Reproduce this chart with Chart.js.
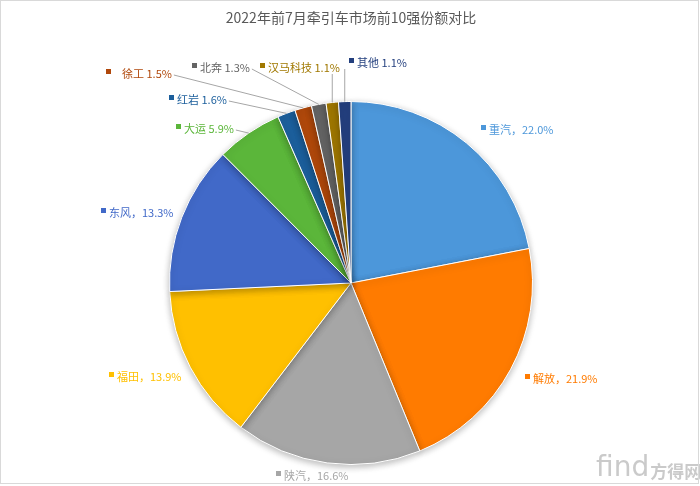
<!DOCTYPE html>
<html>
<head>
<meta charset="utf-8">
<script src="https://cdn.jsdelivr.net/npm/chart.js@4"></script>
<style>
  html, body { margin: 0; padding: 0; background: #fff; }
  #wrap { position: relative; width: 700px; height: 486px; }
  #frame { position: absolute; left: 0; top: 0; width: 697px; height: 482px; border: 1px solid #d9d9d9; box-sizing: content-box; pointer-events: none; }
</style>
</head>
<body>
<div id="wrap">
  <canvas id="pieChart" width="700" height="486"></canvas>
  <div id="frame"></div>
</div>
<script>
// --- data ---
const brands = ["重汽", "解放", "陕汽", "福田", "东风", "大运", "红岩", "徐工", "北奔", "汉马科技", "其他"];
const shares = [22.0, 21.9, 16.6, 13.9, 13.3, 5.9, 1.6, 1.5, 1.3, 1.1, 1.1];
const chartTitle = "2022年前7月牵引车市场前10强份额对比";

// slice colours
const colors = ["#4c97da", "#ff7b00", "#a6a6a6", "#ffc000", "#4169c8", "#5bb63a", "#1c5f9c", "#b0480b", "#646464", "#a07800", "#233f7e"];

// where each label sits (marker left x, middle y) - picked by eye
const labelPos = [
  [481, 129], [525, 378], [276, 475], [109, 376], [101, 212],
  [176, 128], [169, 99], [106, 73], [192, 67], [260, 67], [349, 62]
];

const labelFont = '11px "Noto Sans CJK SC", "DejaVu Sans", sans-serif';

// shadow under the pie
const shadowPlugin = {
  id: "pieShadow",
  beforeDatasetsDraw(chart) {
    const ctx = chart.ctx;
    ctx.save();
    ctx.shadowColor = "rgba(0,0,0,0.28)";
    ctx.shadowBlur = 7;
    ctx.shadowOffsetY = 2;
  },
  afterDatasetsDraw(chart) {
    chart.ctx.restore();
  }
};

// title + outside labels + leader lines + watermark
const labelPlugin = {
  id: "outLabels",
  afterDraw(chart) {
    const ctx = chart.ctx;
    const meta = chart.getDatasetMeta(0);

    ctx.save();
    ctx.font = '14px "Noto Sans CJK SC", "DejaVu Sans", sans-serif';
    ctx.fillStyle = "#595959";
    ctx.textAlign = "center";
    ctx.textBaseline = "middle";
    ctx.fillText(chartTitle, 351, 18);

    ctx.font = labelFont;
    ctx.textAlign = "left";
    meta.data.forEach((arc, i) => {
      const sep = shares[i] >= 10 ? "，" : " ";
      const txt = brands[i] + sep + shares[i].toFixed(1) + "%";
      const [lx, ly] = labelPos[i];
      const gap = i === 7 ? 16 : 8;
      const tw = ctx.measureText(txt).width;

      // marker
      ctx.fillStyle = colors[i];
      ctx.fillRect(lx, ly - 4, 5, 5);
      ctx.fillText(txt, lx + gap, ly + 1);

      // leader lines for the small slices
      if (shares[i] < 10) {
        const mid = (arc.startAngle + arc.endAngle) / 2;
        const ax = arc.x + Math.cos(mid) * arc.outerRadius;
        const ay = arc.y + Math.sin(mid) * arc.outerRadius;
        const right = lx + gap + tw;
        ctx.strokeStyle = "#a6a6a6";
        ctx.lineWidth = 1;
        ctx.beginPath();
        if (ax >= lx - 10 && ax <= right + 2) {
          ctx.moveTo(ax, ly + 7);
        } else {
          ctx.moveTo(right + 2, ly + 2);
        }
        ctx.lineTo(ax, ay);
        ctx.stroke();
      }
    });

    // watermark
    ctx.fillStyle = "rgba(150,150,150,0.5)";
    ctx.font = '28px "DejaVu Sans", sans-serif';
    ctx.fillText("find", 596, 469);
    const fw = ctx.measureText("find").width;
    ctx.font = 'bold 17px "Noto Sans CJK SC", sans-serif';
    ctx.fillText("方得网", 596 + fw + 1, 472);
    ctx.restore();
  }
};

new Chart(document.getElementById("pieChart"), {
  type: "pie",
  data: {
    labels: brands,
    datasets: [{
      data: shares,
      backgroundColor: colors,
      borderColor: "#ffffff",
      borderWidth: 1
    }]
  },
  options: {
    responsive: false,
    animation: false,
    layout: { padding: { top: 101, bottom: 21, left: 101, right: 99 } },
    plugins: {
      legend: { display: false },
      tooltip: { enabled: false },
      title: { display: false }
    }
  },
  plugins: [shadowPlugin, labelPlugin]
});
</script>
</body>
</html>
